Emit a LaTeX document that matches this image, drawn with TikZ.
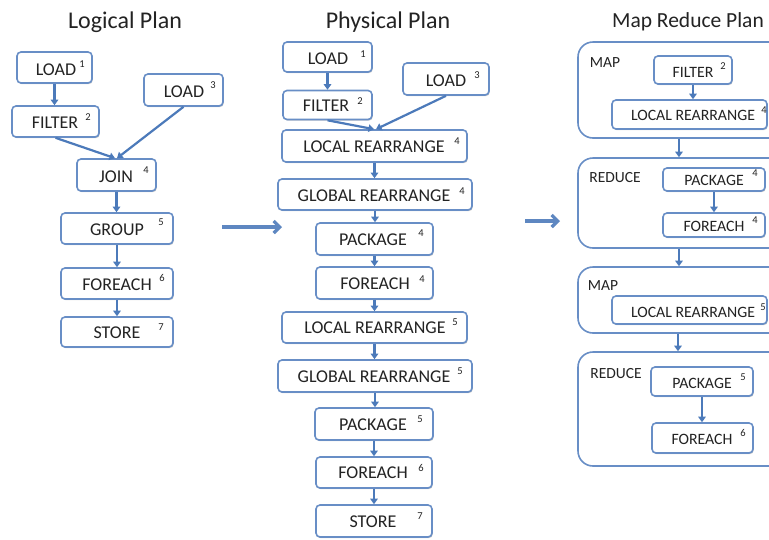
\documentclass[tikz,border=0pt]{standalone}
\usepackage{fontspec}
\setmainfont{Carlito}
\usetikzlibrary{arrows.meta,shadows}
\definecolor{boxline}{RGB}{104,142,198}
\definecolor{flow}{RGB}{76,122,186}
\definecolor{ink}{RGB}{35,35,35}
\tikzset{
  opbox/.style={draw=boxline, line width=1.6pt, rounded corners=4pt, fill=white, inner sep=0pt,
    drop shadow={shadow xshift=0.8pt, shadow yshift=-1.2pt, opacity=0.2, fill=black}},
  stagebox/.style={draw=boxline, line width=1.6pt, rounded corners=15pt, fill=white, inner sep=0pt},
  optext/.style={font=\fontsize{18}{20}\selectfont, text=ink, inner sep=0pt, text height=11.5pt, text depth=0pt},
  mrtext/.style={font=\fontsize{15.8}{18}\selectfont, text=ink, inner sep=0pt, text height=10pt, text depth=0pt},
  opsup/.style={font=\fontsize{10.5}{11}\selectfont, text=ink, inner sep=0pt},
  stagelabel/.style={font=\fontsize{15.5}{16}\selectfont, text=ink, inner sep=0pt, text height=10pt, text depth=0pt},
  plantitle/.style={font=\fontsize{24}{26}\selectfont, text=ink, inner sep=0pt, text height=15.5pt, text depth=0pt},
  flowarrow/.style={draw=flow, line width=2.2pt, -{Triangle[length=5.5pt,width=7.5pt]}},
  planarrow/.style={draw=flow!90, line width=3.2pt, -{Straight Barb[length=6pt,width=12pt]}},
}
\begin{document}
\begin{tikzpicture}[x=1pt,y=-1pt]
\clip (0,0) rectangle (769,539);
\fill[white] (0,0) rectangle (769,539);

% ---------------- titles ----------------
\node[plantitle] (t-log) at (125,21) {Logical Plan};
\node[plantitle] (t-phy) at (388,21) {Physical Plan};
\node[plantitle, font=\fontsize{21.5}{24}\selectfont] (t-mr) at (688,20) {Map Reduce Plan};

% ---------------- logical plan ----------------
\node[opbox, minimum width=75, minimum height=31] (l1) at (54.5,67.5) {};
\node[optext] (l1-t) at (56,70) {LOAD};  \node[opsup] (l1-s) at (82,64) {1};
\node[opbox, minimum width=79, minimum height=32] (l3) at (183.5,90) {};
\node[optext] (l3-t) at (184,92) {LOAD}; \node[opsup] (l3-s) at (213,85) {3};
\node[opbox, minimum width=87, minimum height=31] (l2) at (55.5,121.5) {};
\node[optext] (l2-t) at (55,123) {FILTER}; \node[opsup] (l2-s) at (88,117) {2};
\node[opbox, minimum width=79, minimum height=32] (l4) at (116.5,175) {};
\node[optext] (l4-t) at (116,177) {JOIN}; \node[opsup] (l4-s) at (146,170) {4};
\node[opbox, minimum width=112, minimum height=31] (l5) at (117,228.5) {};
\node[optext] (l5-t) at (117,230) {GROUP}; \node[opsup] (l5-s) at (161,222) {5};
\node[opbox, minimum width=112, minimum height=31] (l6) at (117,283.5) {};
\node[optext] (l6-t) at (117,285) {FOREACH}; \node[opsup] (l6-s) at (162,278) {6};
\node[opbox, minimum width=112, minimum height=30] (l7) at (117,332) {};
\node[optext] (l7-t) at (117,333) {STORE}; \node[opsup] (l7-s) at (161,327) {7};

\draw[flowarrow] (l1.south) -- (l1.south |- l2.north);
\draw[flowarrow] (l2.south) -- ([xshift=-1.5]l4.north);
\draw[flowarrow] (l3.south) -- ([xshift=0.5]l4.north);
\draw[flowarrow] (l4.south) -- (l4.south |- l5.north);
\draw[flowarrow] (l5.south) -- (l6.north);
\draw[flowarrow] (l6.south) -- (l7.north);

% ---------------- physical plan ----------------
\node[opbox, minimum width=89, minimum height=30] (p1) at (327.5,57) {};
\node[optext] (p1-t) at (328,59) {LOAD}; \node[opsup] (p1-s) at (363,54) {1};
\node[opbox, minimum width=86, minimum height=32] (p3) at (446,79) {};
\node[optext] (p3-t) at (446,81) {LOAD}; \node[opsup] (p3-s) at (477,75) {3};
\node[opbox, minimum width=89, minimum height=29] (p2) at (327.5,105) {};
\node[optext] (p2-t) at (326,106) {FILTER}; \node[opsup] (p2-s) at (360,101) {2};
\node[opbox, minimum width=185, minimum height=32] (p4a) at (374.5,146) {};
\node[optext] (p4a-t) at (374,147) {LOCAL REARRANGE}; \node[opsup] (p4a-s) at (457,141) {4};
\node[opbox, minimum width=194, minimum height=31] (p4b) at (375,194.5) {};
\node[optext] (p4b-t) at (374,196) {GLOBAL REARRANGE}; \node[opsup] (p4b-s) at (462,191) {4};
\node[opbox, minimum width=117, minimum height=32] (p4c) at (374.5,239) {};
\node[optext] (p4c-t) at (373,240) {PACKAGE}; \node[opsup] (p4c-s) at (421,233) {4};
\node[opbox, minimum width=117, minimum height=32] (p4d) at (374.5,283) {};
\node[optext] (p4d-t) at (375,284) {FOREACH}; \node[opsup] (p4d-s) at (422,279) {4};
\node[opbox, minimum width=185, minimum height=31] (p5a) at (374.5,327.5) {};
\node[optext] (p5a-t) at (375,328) {LOCAL REARRANGE}; \node[opsup] (p5a-s) at (455,322) {5};
\node[opbox, minimum width=194, minimum height=32] (p5b) at (375,376) {};
\node[optext] (p5b-t) at (374,377) {GLOBAL REARRANGE}; \node[opsup] (p5b-s) at (460,371) {5};
\node[opbox, minimum width=118, minimum height=32] (p5c) at (374,424) {};
\node[optext] (p5c-t) at (373,425) {PACKAGE}; \node[opsup] (p5c-s) at (420,419) {5};
\node[opbox, minimum width=116, minimum height=31] (p6) at (374,472.5) {};
\node[optext] (p6-t) at (373,473) {FOREACH}; \node[opsup] (p6-s) at (421,468) {6};
\node[opbox, minimum width=116, minimum height=32] (p7) at (374,521) {};
\node[optext] (p7-t) at (373,522) {STORE}; \node[opsup] (p7-s) at (420,516) {7};

\draw[flowarrow] (p1.south) -- (p2.north);
\draw[flowarrow] (p2.south) -- ([xshift=-0.5]p4a.north);
\draw[flowarrow] (p3.south) -- ([xshift=1.5]p4a.north);
\draw[flowarrow] (p4a.south) -- (p4a.south |- p4b.north);
\draw[flowarrow] (p4b.south) -- (p4b.south |- p4c.north);
\draw[flowarrow] (p4c.south) -- (p4d.north);
\draw[flowarrow] (p4d.south) -- (p4d.south |- p5a.north);
\draw[flowarrow] (p5a.south) -- (p5a.south |- p5b.north);
\draw[flowarrow] (p5b.south) -- (p5b.south |- p5c.north);
\draw[flowarrow] (p5c.south) -- (p6.north);
\draw[flowarrow] (p6.south) -- (p7.north);

% ---------------- map reduce plan ----------------
\node[stagebox, minimum width=222, minimum height=96]  (m1) at (689,90) {};
\node[stagelabel] (m1-l) at (605,62) {MAP};
\node[opbox, minimum width=78, minimum height=28] (mf2) at (693,70) {};
\node[mrtext] (mf2-t) at (693,72) {FILTER}; \node[opsup] (mf2-s) at (723,66) {2};
\node[opbox, minimum width=155, minimum height=29] (mlr4) at (689.5,114.5) {};
\node[mrtext] (mlr4-t) at (693,115) {LOCAL REARRANGE}; \node[opsup] (mlr4-s) at (764,110) {4};

\node[stagebox, minimum width=222, minimum height=90]  (r1) at (689,203) {};
\node[stagelabel] (r1-l) at (615,177) {REDUCE};
\node[opbox, minimum width=102, minimum height=23] (mp4) at (714,179.5) {};
\node[mrtext] (mp4-t) at (714,180) {PACKAGE}; \node[opsup] (mp4-s) at (755,173) {4};
\node[opbox, minimum width=102, minimum height=24] (mfe4) at (714,225) {};
\node[mrtext] (mfe4-t) at (714,226) {FOREACH}; \node[opsup] (mfe4-s) at (755,220) {4};

\node[stagebox, minimum width=222, minimum height=66]  (m2) at (689,300) {};
\node[stagelabel] (m2-l) at (603,285) {MAP};
\node[opbox, minimum width=155, minimum height=28] (mlr5) at (689.5,310) {};
\node[mrtext] (mlr5-t) at (693,312) {LOCAL REARRANGE}; \node[opsup] (mlr5-s) at (763,307) {5};

\node[stagebox, minimum width=222, minimum height=114] (r2) at (689,409) {};
\node[stagelabel] (r2-l) at (616,373) {REDUCE};
\node[opbox, minimum width=102, minimum height=29] (mp5) at (702,381.5) {};
\node[mrtext] (mp5-t) at (702,383) {PACKAGE}; \node[opsup] (mp5-s) at (743,377) {5};
\node[opbox, minimum width=101, minimum height=30] (mfe6) at (702.5,438) {};
\node[mrtext] (mfe6-t) at (702,439) {FOREACH}; \node[opsup] (mfe6-s) at (743,433) {6};

\draw[flowarrow] (mf2.south) -- (mf2.south |- mlr4.north);
\draw[flowarrow] ([xshift=-10]m1.south) -- ([xshift=-10]r1.north);
\draw[flowarrow] (mp4.south) -- (mfe4.north);
\draw[flowarrow] ([xshift=-10]r1.south) -- ([xshift=-10]m2.north);
\draw[flowarrow] ([xshift=-11]m2.south) -- ([xshift=-11]r2.north);
\draw[flowarrow] (mp5.south) -- (mp5.south |- mfe6.north);

% ---------------- transitions between plans ----------------
\coordinate (a1s) at (222,227);
\coordinate (a1e) at (282,227);
\coordinate (a2s) at (525,221);
\coordinate (a2e) at (560,221);
\draw[planarrow] (a1s) -- (a1e);
\draw[planarrow] (a2s) -- (a2e);
\end{tikzpicture}
\end{document}
